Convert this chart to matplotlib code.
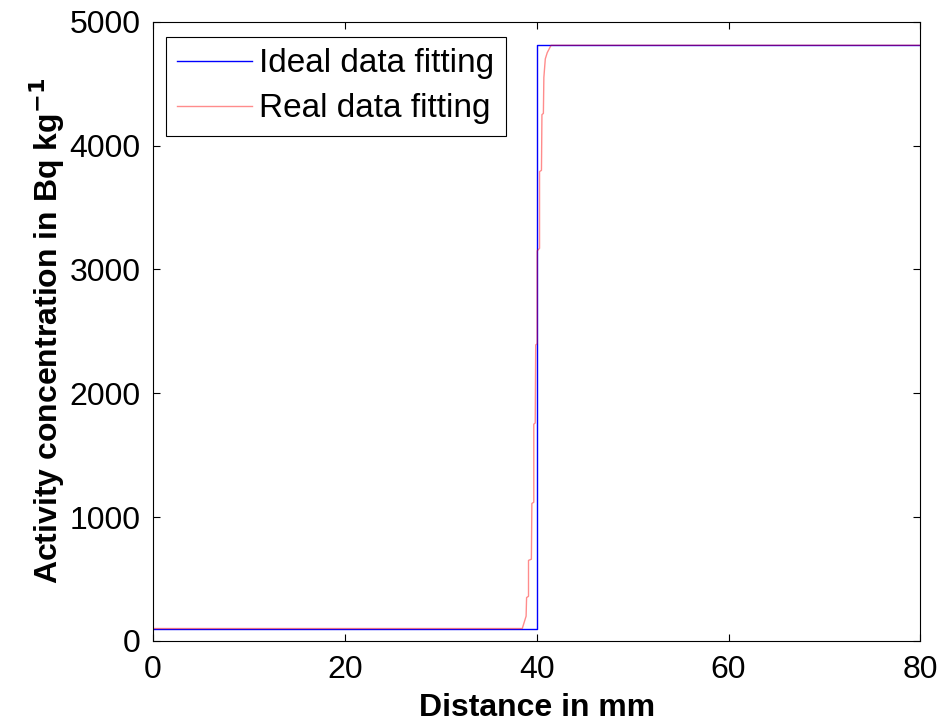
import matplotlib
matplotlib.use("Agg")
import matplotlib.pyplot as plt

# ideal step fit
ideal_x = [0, 40, 40, 80]
ideal_y = [100, 100, 4810, 4810]

# real data fit (staircase)
real_x = [0, 38.5, 38.9, 38.95, 39.15, 39.15, 39.45, 39.5, 39.7, 39.7, 39.85, 39.9,
          40.05, 40.05, 40.3, 40.3, 40.5, 40.55, 40.7, 40.75, 40.9, 41.1, 41.3, 41.5, 80]
real_y = [100, 100, 200, 350, 360, 650, 660, 1110, 1120, 1750, 1760, 2390,
          2400, 3150, 3170, 3790, 3800, 4250, 4260, 4550, 4700, 4750, 4780, 4810, 4810]

x_ticks = [0, 20, 40, 60, 80]
y_ticks = [0, 1000, 2000, 3000, 4000, 5000]

plt.rcParams['font.family'] = ['Liberation Sans', 'DejaVu Sans']

fig = plt.figure(figsize=(9.44, 7.25), dpi=100)
ax = fig.add_axes([0.162, 0.116, 0.813, 0.854])

ax.plot(ideal_x, ideal_y, color=(0, 0, 1), lw=1.0, label="Ideal data fitting")
ax.plot(real_x, real_y, color=(1, 0, 0), lw=1.0, alpha=0.45, label="Real data fitting")

ax.set_xlim(0, 80)
ax.set_ylim(0, 5000)
ax.set_xticks(x_ticks)
ax.set_yticks(y_ticks)
ax.tick_params(direction='in', top=True, right=True, length=5, width=0.8,
               labelsize=23)
ax.tick_params(axis='y', pad=9)
ax.tick_params(axis='x', pad=10)
for s in ax.spines.values():
    s.set_linewidth(0.8)

ax.set_xlabel("Distance in mm", fontsize=23, fontweight='bold', labelpad=6)
ax.set_ylabel(r"Activity concentration in Bq kg$^{\mathbf{-1}}$", fontsize=23,
              fontweight='bold', labelpad=2)

leg = ax.legend(loc='upper left', bbox_to_anchor=(0.0166, 0.976), borderaxespad=0,
                fontsize=24, handlelength=2.25, handletextpad=0.2, labelspacing=0.42,
                borderpad=0.35, fancybox=False, framealpha=1, edgecolor='black')
leg.get_frame().set_linewidth(0.8)

fig.savefig("out.png", dpi=100)
